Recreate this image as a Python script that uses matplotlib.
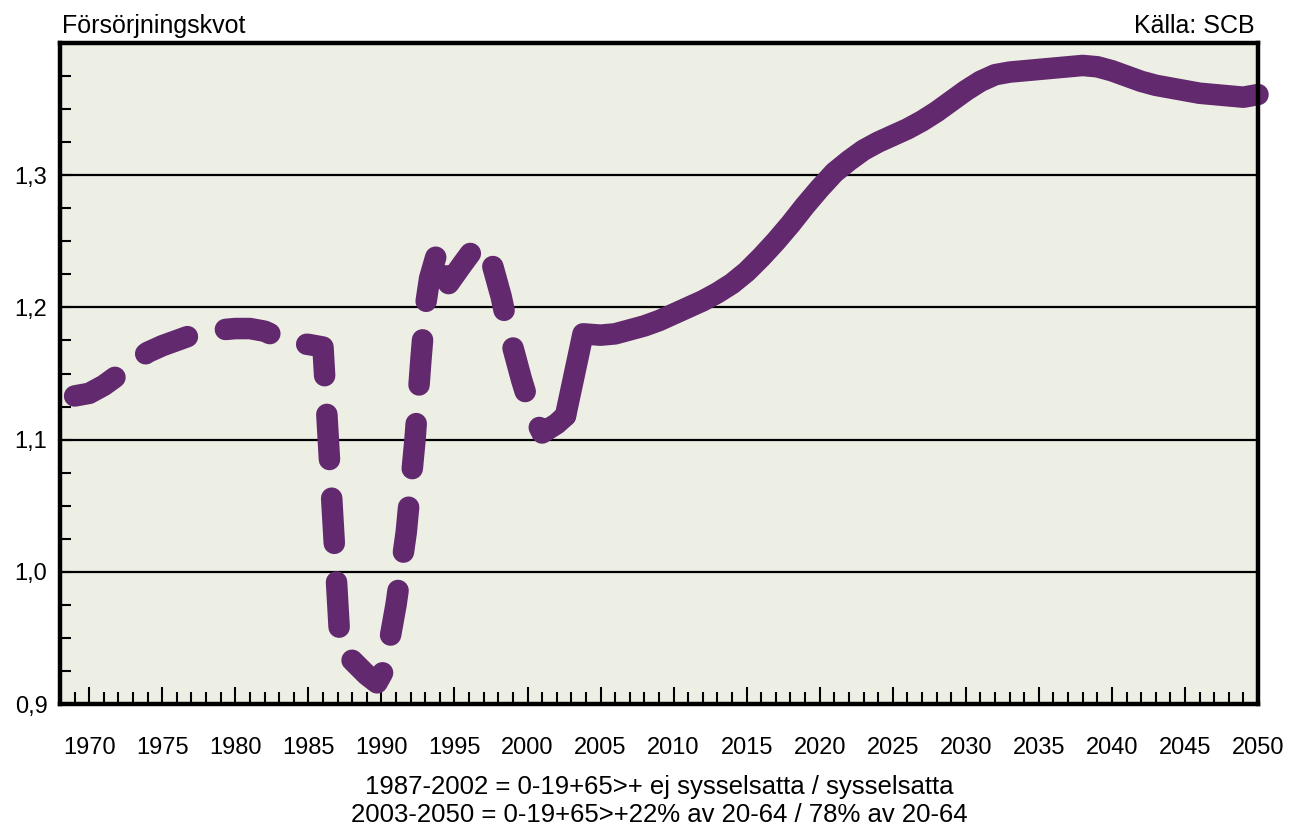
import matplotlib

matplotlib.use("Agg")  # sin ventana, solo a disco
import matplotlib.pyplot as plt  # noqa: E402
from matplotlib.ticker import MultipleLocator  # noqa: E402

plt.rcParams["font.family"] = ["Liberation Sans", "DejaVu Sans"]

# --- datos --------------------------------------------------------------
# serie histórica (discontinua), 1969-2002
anios_hist = [1969, 1970, 1971, 1972, 1973, 1974, 1975, 1976, 1977, 1978,
              1979, 1980, 1981, 1982, 1983, 1984, 1985, 1986,
              1987.2, 1988, 1989, 1989.7, 1990.2, 1991, 1991.7, 1992.3,
              1992.7, 1993, 1993.3, 1993.9, 1994.6, 1995.5, 1996.5, 1997,
              1997.6, 1998.2, 1998.7, 1999.6, 2000.3, 2001, 2002, 2002.6]
kvot_hist = [1.133, 1.135, 1.141, 1.149, 1.158, 1.166, 1.171, 1.175, 1.179, 1.181,
             1.183, 1.184, 1.184, 1.182, 1.177, 1.173, 1.172, 1.170,
             0.940, 0.933, 0.922, 0.916, 0.926, 0.975, 1.030, 1.100,
             1.160, 1.200, 1.222, 1.245, 1.218, 1.232, 1.247, 1.245,
             1.232, 1.208, 1.182, 1.145, 1.120, 1.105, 1.112, 1.118]

# proyección (continua), 2003-2050
anios_prog = [2002.6, 2003.8, 2005, 2006, 2007, 2008, 2009, 2010, 2011, 2012,
              2013, 2014, 2015, 2016, 2017, 2018, 2019, 2020, 2021, 2022,
              2023, 2024, 2025, 2026, 2027, 2028, 2029, 2030, 2031, 2032,
              2033, 2034, 2035, 2036, 2037, 2038, 2039, 2040, 2041, 2042,
              2043, 2044, 2045, 2046, 2047, 2048, 2049, 2050]
kvot_prog = [1.118, 1.180, 1.179, 1.180, 1.183, 1.186, 1.190, 1.195, 1.200, 1.205,
             1.211, 1.218, 1.227, 1.238, 1.250, 1.263, 1.277, 1.290, 1.302, 1.311,
             1.319, 1.325, 1.330, 1.335, 1.341, 1.348, 1.356, 1.364, 1.371, 1.376,
             1.378, 1.379, 1.380, 1.381, 1.382, 1.383, 1.382, 1.379, 1.375, 1.371,
             1.368, 1.366, 1.364, 1.362, 1.361, 1.360, 1.359, 1.361]

y_ticks = [0.9, 1.0, 1.1, 1.2, 1.3]
y_etiquetas = ["0,9", "1,0", "1,1", "1,2", "1,3"]
x_ticks = list(range(1970, 2051, 5))

titulo = "Försörjningskvot"
fuente = "Källa: SCB"
nota = ["1987-2002 = 0-19+65>+ ej sysselsatta / sysselsatta",
        "2003-2050 = 0-19+65>+22% av 20-64 / 78% av 20-64"]

VIOLETA = "#62296e"
FONDO = "#eeefe4"
W, H = 1297, 830

fig = plt.figure(figsize=(W / 100, H / 100), dpi=100)
ax = fig.add_axes([60 / W, (H - 704) / H, 1198 / W, 661 / H])
ax.set_facecolor(FONDO)

ax.plot(anios_hist, kvot_hist, color=VIOLETA, lw=15.5, ls=(0, (2.1, 1.8)),
        dash_capstyle="round", dash_joinstyle="round", clip_on=False, zorder=3)
ax.plot(anios_prog, kvot_prog, color=VIOLETA, lw=15.5,
        solid_capstyle="round", solid_joinstyle="round", clip_on=False, zorder=3)

ax.set_xlim(1968, 2050)
ax.set_ylim(0.9, 1.4)
ax.set_xticks(x_ticks)
ax.set_xticklabels([str(a) for a in x_ticks])
ax.set_yticks(y_ticks)
ax.set_yticklabels(y_etiquetas)
ax.xaxis.set_minor_locator(MultipleLocator(1))
ax.yaxis.set_minor_locator(MultipleLocator(0.025))

ax.grid(True, axis="y", which="major", color="black", lw=1.6, zorder=1)
ax.set_axisbelow(True)

ax.tick_params(axis="x", which="major", direction="in", length=12, width=1.5,
               pad=24, labelsize=17)
ax.tick_params(axis="x", which="minor", direction="in", length=8.5, width=1.5)
ax.tick_params(axis="y", which="both", direction="in", length=8, width=1.5,
               pad=9, labelsize=17)

for lado in ax.spines.values():
    lado.set_linewidth(3.2)
    lado.set_color("black")
    lado.set_zorder(4)

fig.text(62 / W, 1 - 33 / H, titulo, ha="left", va="baseline", fontsize=18)
fig.text(1255 / W, 1 - 33 / H, fuente, ha="right", va="baseline", fontsize=18)
fig.text(659 / W, 1 - 787 / H, nota[0], ha="center", va="center", fontsize=18.5)
fig.text(659 / W, 1 - 815 / H, nota[1], ha="center", va="center", fontsize=18.5)

fig.savefig("out.png", dpi=100)
plt.close(fig)
